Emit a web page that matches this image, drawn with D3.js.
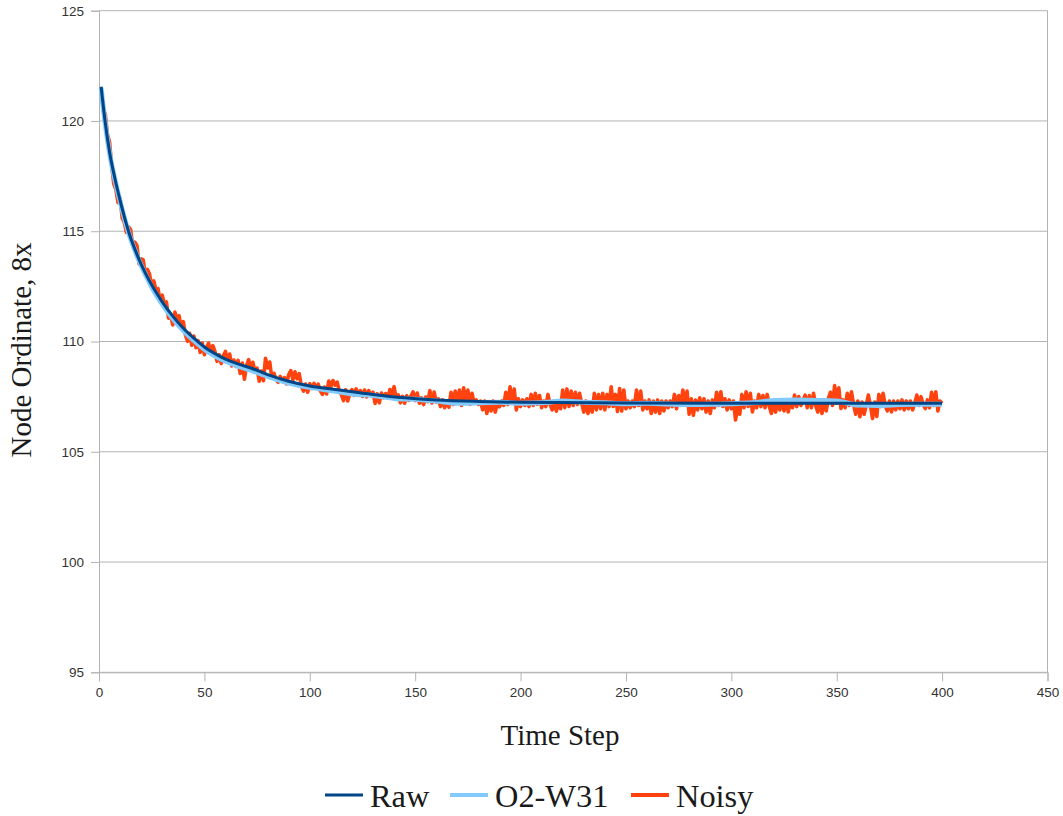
<!DOCTYPE html>
<html>
<head>
<meta charset="utf-8">
<script src="https://cdn.jsdelivr.net/npm/d3@7"></script>
<style>
  html, body { margin: 0; padding: 0; background: #ffffff; }
  svg { display: block; }
  .tick text { font-family: "Liberation Sans", Arial, sans-serif; font-size: 13.5px; fill: #333333; }
  .title { font-family: "Liberation Serif", "Times New Roman", serif; font-size: 29px; fill: #1a1a1a; }
  .legend-label { font-family: "Liberation Serif", "Times New Roman", serif; font-size: 32.4px; fill: #1a1a1a; }
</style>
</head>
<body>
<svg id="chart" width="1063" height="816"></svg>
<script>
// Axis ticks
const xTicks = [0, 50, 100, 150, 200, 250, 300, 350, 400, 450];
const yTicks = [95, 100, 105, 110, 115, 120, 125];

// Raw series: time step and node ordinate
const rawT = [1, 3, 5, 8, 10, 14, 18, 22, 26, 30, 35, 40, 45, 50, 55, 60, 67, 72, 80, 90,
              100, 114, 130, 145, 160, 180, 200, 250, 300, 350, 400];
const rawV = [121.55, 119.9, 118.6, 117.2, 116.4, 115.0, 113.95, 113.1, 112.4, 111.8,
              111.15, 110.6, 110.15, 109.75, 109.45, 109.2, 108.95, 108.8, 108.5, 108.2,
              107.98, 107.8, 107.6, 107.45, 107.35, 107.28, 107.24, 107.21, 107.2, 107.2, 107.2];

// O2-W31 filtered series
const o2T = [1, 3, 5, 8, 10, 14, 18, 22, 26, 30, 35, 40, 45, 50, 55, 60, 67, 72, 80, 90,
             100, 110, 120, 130, 140, 150, 160, 170, 180, 190, 200, 210, 220, 230, 240,
             250, 260, 270, 280, 290, 300, 310, 320, 330, 340, 350, 360, 370, 380, 390, 400];
const o2V = [121.5, 119.85, 118.55, 117.15, 116.35, 114.95, 113.9, 113.05, 112.3, 111.7,
             111.05, 110.5, 110.05, 109.65, 109.35, 109.1, 108.85, 108.7, 108.42, 108.12,
             107.92, 107.78, 107.62, 107.55, 107.42, 107.38, 107.3, 107.2, 107.22, 107.25,
             107.2, 107.22, 107.3, 107.25, 107.22, 107.18, 107.2, 107.17, 107.14, 107.15,
             107.18, 107.22, 107.32, 107.35, 107.33, 107.3, 107.12, 107.1, 107.14, 107.15, 107.15];

// Noisy series, one value per time step 1..400 (twenty per row)
const noisyV = [
  121.5, 120.5, 120.3, 119.4, 119.05, 118.0, 117.15, 116.9, 116.3, 116.5, 115.6, 115.4, 114.95, 115.2, 115.07, 114.35, 114.5, 114.35, 113.52, 113.75,
  113.7, 113.0, 113.27, 113.05, 112.47, 112.75, 112.35, 112.4, 111.8, 112.1, 111.72, 111.79, 111.06, 111.18, 110.75, 111.34, 111.03, 111.17, 110.61, 110.9,
  110.3, 110.01, 110.37, 109.83, 110.25, 109.72, 110.04, 109.51, 109.93, 109.4, 109.74, 109.93, 109.47, 109.81, 109.55, 109.1, 109.4, 109.0, 109.35, 109.55,
  109.06, 109.43, 108.89, 109.16, 108.87, 109.14, 108.55, 109.02, 108.29, 108.91, 109.18, 108.7, 109.06, 108.62, 108.79, 108.2, 108.66, 108.22, 109.24, 108.8,
  109.07, 108.34, 108.56, 108.28, 108.15, 108.42, 108.19, 108.36, 108.08, 108.5, 108.68, 108.26, 108.63, 108.31, 108.54, 107.97, 107.75, 108.07, 107.7, 108.08,
  107.87, 108.1, 107.89, 108.07, 107.76, 107.6, 107.93, 107.62, 108.21, 107.95, 108.23, 108.02, 108.16, 107.75, 107.59, 107.32, 107.81, 107.3, 107.64, 107.82,
  107.56, 107.85, 107.59, 107.77, 107.51, 107.8, 107.49, 107.77, 107.56, 107.7, 107.19, 107.63, 107.22, 107.66, 107.45, 107.64, 107.43, 107.82, 107.61, 107.95,
  107.39, 107.58, 107.22, 107.51, 107.2, 107.54, 107.33, 107.53, 107.72, 107.32, 107.66, 107.2, 107.44, 107.14, 107.48, 107.27, 107.77, 107.21, 107.71, 107.25,
  107.4, 107.05, 107.35, 107.0, 107.3, 107.02, 107.7, 107.15, 107.75, 107.2, 107.8, 107.1, 107.9, 107.25, 107.8, 107.15, 107.65, 107.2, 107.35, 107.15,
  107.3, 106.9, 107.3, 106.74, 107.25, 106.85, 107.3, 106.8, 107.2, 107.04, 107.3, 107.1, 107.7, 107.15, 107.95, 107.2, 107.85, 106.9, 107.4, 107.05,
  107.35, 107.1, 107.4, 107.05, 107.6, 107.1, 107.65, 107.15, 107.55, 107.0, 107.3, 107.05, 107.6, 107.15, 106.9, 107.3, 106.84, 107.25, 106.95, 107.8,
  107.0, 107.85, 107.05, 107.75, 107.1, 107.7, 107.15, 107.65, 107.2, 106.8, 107.3, 106.74, 107.25, 106.8, 107.65, 106.9, 107.6, 106.95, 107.65, 106.9,
  107.6, 107.05, 107.95, 107.05, 107.6, 106.83, 107.87, 106.85, 107.8, 106.95, 107.3, 107.0, 107.3, 107.05, 107.8, 107.1, 107.75, 106.9, 107.3, 106.95,
  107.35, 106.74, 107.3, 106.8, 107.35, 106.74, 107.3, 106.85, 107.3, 107.0, 107.3, 107.05, 107.6, 106.95, 107.55, 107.1, 107.8, 107.15, 107.75, 106.7,
  107.4, 106.66, 107.35, 106.9, 107.45, 106.95, 107.4, 106.8, 107.3, 106.74, 107.35, 107.0, 107.7, 107.1, 107.72, 107.05, 107.4, 106.9, 107.35, 106.95,
  107.3, 106.44, 107.1, 106.7, 107.6, 107.0, 107.72, 107.05, 107.65, 106.81, 107.3, 107.0, 107.6, 107.05, 107.55, 107.0, 107.6, 107.05, 106.74, 107.3,
  106.8, 107.35, 106.9, 107.3, 106.85, 107.35, 106.81, 107.3, 107.0, 107.57, 107.05, 107.5, 107.1, 107.3, 107.57, 107.0, 107.55, 107.0, 107.65, 107.1,
  106.8, 107.3, 106.74, 107.35, 106.85, 107.4, 107.7, 107.1, 108.0, 107.2, 107.9, 106.96, 107.35, 107.0, 107.65, 107.1, 107.72, 107.15, 106.7, 107.3,
  106.59, 107.25, 106.7, 107.1, 107.57, 107.1, 106.51, 107.25, 106.6, 107.6, 107.05, 107.65, 107.1, 106.85, 107.3, 106.81, 107.3, 106.9, 107.3, 106.95,
  107.35, 106.9, 107.3, 106.95, 107.3, 106.9, 107.2, 107.57, 107.1, 107.5, 107.15, 106.96, 107.35, 107.0, 107.7, 107.1, 107.72, 106.85, 107.3, 107.2
];
const noisyT = d3.range(1, noisyV.length + 1);

const seriesNames = ["Raw", "O2-W31", "Noisy"];
const seriesColors = ["#004586", "#83caff", "#ff420e"];

const svg = d3.select("#chart");
const W = 1063, H = 816;
svg.append("rect").attr("width", W).attr("height", H).attr("fill", "#ffffff");

const plot = { left: 99, right: 1047.5, top: 10.7, bottom: 672.3 };
const x = d3.scaleLinear().domain([0, 450]).range([plot.left, plot.right]);
const y = d3.scaleLinear().domain([95, 125]).range([plot.bottom, plot.top]);

const gridColor = "#b3b3b3";

// horizontal grid lines
svg.append("g").selectAll("line").data(yTicks).join("line")
  .attr("x1", plot.left).attr("x2", plot.right)
  .attr("y1", d => y(d)).attr("y2", d => y(d))
  .attr("stroke", gridColor).attr("stroke-width", 1);

// right border of the plot wall
svg.append("line")
  .attr("x1", x(450)).attr("x2", x(450))
  .attr("y1", y(125)).attr("y2", y(95))
  .attr("stroke", gridColor).attr("stroke-width", 1);

// axes
const yAxis = svg.append("g")
  .attr("transform", `translate(${plot.left},0)`)
  .call(d3.axisLeft(y).tickValues(yTicks).tickSize(8).tickPadding(7).tickFormat(d3.format("d")));
const xAxis = svg.append("g")
  .attr("transform", `translate(0,${plot.bottom})`)
  .call(d3.axisBottom(x).tickValues(xTicks).tickSize(9).tickPadding(6).tickFormat(d3.format("d")));
[yAxis, xAxis].forEach(g => {
  g.select(".domain").attr("stroke", gridColor).attr("stroke-width", 1);
  g.selectAll(".tick line").attr("stroke", gridColor).attr("stroke-width", 1);
});

// series lines
const line = d3.line().x(d => x(d[0])).y(d => y(d[1]));
const smooth = d3.line().x(d => x(d[0])).y(d => y(d[1])).curve(d3.curveMonotoneX);

const noisyData = noisyT.map((t, i) => [t, noisyV[i]]);
const o2Data = o2T.map((t, i) => [t, o2V[i]]);
const rawData = rawT.map((t, i) => [t, rawV[i]]);

svg.append("path").datum(noisyData)
  .attr("d", line).attr("fill", "none")
  .attr("stroke", seriesColors[2]).attr("stroke-width", 3.6)
  .attr("stroke-linejoin", "round");
svg.append("path").datum(o2Data)
  .attr("d", smooth).attr("fill", "none")
  .attr("stroke", seriesColors[1]).attr("stroke-width", 5)
  .attr("stroke-linejoin", "round");
svg.append("path").datum(rawData)
  .attr("d", smooth).attr("fill", "none")
  .attr("stroke", seriesColors[0]).attr("stroke-width", 3)
  .attr("stroke-linejoin", "round");

// axis titles
svg.append("text").attr("class", "title")
  .attr("x", 560).attr("y", 745).attr("text-anchor", "middle")
  .text("Time Step");
svg.append("text").attr("class", "title")
  .attr("transform", "translate(31,350) rotate(-90)")
  .attr("text-anchor", "middle")
  .text("Node Ordinate, 8x");

// legend
const legendX = [325, 450, 631];
const legend = svg.append("g");
seriesNames.forEach((name, i) => {
  legend.append("line")
    .attr("x1", legendX[i]).attr("x2", legendX[i] + 38)
    .attr("y1", 795).attr("y2", 795)
    .attr("stroke", seriesColors[i]).attr("stroke-width", i === 0 ? 3 : 4);
  legend.append("text").attr("class", "legend-label")
    .attr("x", legendX[i] + 45).attr("y", 807)
    .text(name);
});
</script>
</body>
</html>
